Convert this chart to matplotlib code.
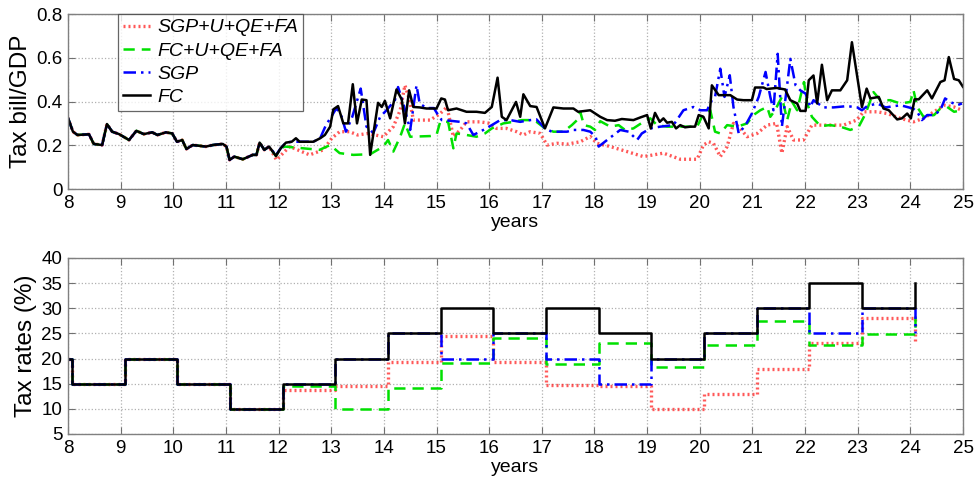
import matplotlib
matplotlib.use("Agg")
import matplotlib.pyplot as plt

plt.rcParams['font.family'] = ['Liberation Sans', 'DejaVu Sans']

# ---------------- top panel data (Tax bill / GDP) ----------------
x_common = [8.0, 8.095, 8.18, 8.40, 8.49, 8.65, 8.74, 8.84, 8.97, 9.16, 9.30, 9.44, 9.60, 9.70,
            9.86, 9.98, 10.07, 10.17, 10.25, 10.37, 10.62, 10.75, 10.94, 11.01, 11.07, 11.16,
            11.32, 11.51, 11.58, 11.64, 11.73, 11.82]
v_common = [0.325, 0.262, 0.247, 0.25, 0.206, 0.201, 0.297, 0.262, 0.251, 0.224, 0.266, 0.251,
            0.259, 0.247, 0.259, 0.254, 0.216, 0.224, 0.183, 0.201, 0.194, 0.201, 0.206, 0.194,
            0.133, 0.148, 0.136, 0.156, 0.156, 0.212, 0.179, 0.194]

x_fc = [11.95, 12.04, 12.14, 12.25, 12.33, 12.40, 12.66, 12.79, 12.88, 12.98, 13.04, 13.13, 13.23,
        13.32, 13.41, 13.49, 13.58, 13.67, 13.74, 13.89, 13.96, 14.02, 14.12, 14.24, 14.34, 14.40,
        14.48, 14.56, 14.68, 14.81, 15.00, 15.09, 15.16, 15.22, 15.38, 15.57, 15.76, 15.92, 16.05,
        16.16, 16.24, 16.33, 16.51, 16.59, 16.65, 16.78, 16.90, 17.06, 17.22, 17.41, 17.60, 17.69,
        17.92, 18.11, 18.24, 18.39, 18.52, 18.74, 18.87, 19.0, 19.07, 19.15, 19.24, 19.31, 19.38,
        19.47, 19.55, 19.63, 19.72, 19.82, 19.91, 19.98, 20.07, 20.17, 20.23, 20.36, 20.58, 20.71,
        20.83, 20.99, 21.05, 21.21, 21.27, 21.46, 21.62, 21.72, 21.85, 21.91, 22.01, 22.07, 22.16,
        22.23, 22.32, 22.42, 22.51, 22.67, 22.80, 22.89, 23.08, 23.17, 23.24, 23.40, 23.49, 23.59,
        23.75, 23.84, 23.94, 24.01, 24.08, 24.16, 24.32, 24.41, 24.57, 24.65, 24.73, 24.83, 24.92,
        25.0]
v_fc = [0.151, 0.186, 0.212, 0.216, 0.232, 0.216, 0.216, 0.232, 0.247, 0.285, 0.364, 0.379, 0.30,
        0.30, 0.479, 0.30, 0.409, 0.406, 0.156, 0.394, 0.375, 0.403, 0.323, 0.455, 0.409, 0.30,
        0.451, 0.375, 0.373, 0.368, 0.368, 0.414, 0.409, 0.36, 0.368, 0.353, 0.353, 0.348, 0.375,
        0.509, 0.33, 0.315, 0.398, 0.33, 0.433, 0.379, 0.375, 0.277, 0.373, 0.368, 0.368, 0.353,
        0.36, 0.33, 0.315, 0.312, 0.32, 0.315, 0.327, 0.338, 0.277, 0.348, 0.307, 0.323, 0.303,
        0.307, 0.277, 0.292, 0.282, 0.285, 0.285, 0.338, 0.33, 0.277, 0.474, 0.429, 0.429, 0.409,
        0.406, 0.406, 0.464, 0.464, 0.457, 0.462, 0.455, 0.406, 0.391, 0.357, 0.357, 0.497, 0.519,
        0.391, 0.568, 0.406, 0.451, 0.451, 0.497, 0.671, 0.375, 0.459, 0.414, 0.421, 0.368, 0.36,
        0.318, 0.323, 0.345, 0.323, 0.41, 0.41, 0.451, 0.414, 0.489, 0.497, 0.603, 0.503, 0.497,
        0.467]

x_sgp = [11.95, 12.04, 12.14, 12.25, 12.40, 12.66, 12.79, 12.9, 13.0, 13.1, 13.2, 13.28, 13.4,
         13.56, 13.67, 13.8, 13.93, 14.05, 14.21, 14.27, 14.37, 14.50, 14.62, 14.68, 14.81, 14.95,
         15.03, 15.1, 15.26, 15.45, 15.57, 15.70, 15.89, 16.05, 16.21, 16.40, 16.59, 16.78, 16.90,
         17.06, 17.19, 17.35, 17.48, 17.60, 17.79, 17.92, 18.02, 18.08, 18.24, 18.49, 18.65, 18.81,
         18.9, 19.06, 19.25, 19.50, 19.69, 19.88, 20.01, 20.14, 20.23, 20.29, 20.39, 20.47, 20.57,
         20.64, 20.74, 20.87, 20.99, 21.12, 21.25, 21.34, 21.40, 21.48, 21.56, 21.64, 21.72, 21.82,
         21.91, 22.01, 22.10, 22.16, 22.35, 22.54, 22.80, 22.99, 23.08, 23.18, 23.37, 23.53, 23.81,
         23.97, 24.05, 24.13, 24.22, 24.32, 24.45, 24.57, 24.66, 24.76, 24.89, 24.98]
v_sgp = [0.155, 0.186, 0.212, 0.216, 0.216, 0.216, 0.232, 0.292, 0.33, 0.37, 0.33, 0.262, 0.33,
         0.459, 0.285, 0.256, 0.33, 0.36, 0.406, 0.466, 0.391, 0.27, 0.474, 0.391, 0.37, 0.37,
         0.338, 0.315, 0.312, 0.307, 0.30, 0.247, 0.27, 0.292, 0.315, 0.315, 0.307, 0.315, 0.318,
         0.277, 0.262, 0.262, 0.262, 0.27, 0.27, 0.262, 0.239, 0.194, 0.224, 0.27, 0.262, 0.224,
         0.254, 0.277, 0.285, 0.292, 0.36, 0.375, 0.36, 0.36, 0.406, 0.421, 0.55, 0.421, 0.52,
         0.375, 0.254, 0.292, 0.345, 0.421, 0.535, 0.421, 0.36, 0.618, 0.285, 0.436, 0.595, 0.474,
         0.451, 0.436, 0.375, 0.406, 0.373, 0.373, 0.379, 0.373, 0.36, 0.379, 0.391, 0.373, 0.383,
         0.373, 0.368, 0.353, 0.315, 0.338, 0.338, 0.36, 0.414, 0.398, 0.383, 0.391]

x_fcu = [11.95, 12.04, 12.12, 12.47, 12.78, 12.98, 13.16, 13.42, 13.74, 13.99, 14.08, 14.18, 14.31,
         14.40, 14.50, 14.88, 15.0, 15.07, 15.22, 15.32, 15.38, 15.57, 15.76, 15.92, 16.05, 16.27,
         16.46, 16.62, 16.78, 16.90, 17.06, 17.22, 17.41, 17.57, 17.67, 17.73, 17.80, 17.92, 18.01,
         18.11, 18.30, 18.46, 18.58, 18.74, 18.93, 19.06, 19.19, 19.38, 19.57, 19.76, 19.95, 20.07,
         20.2, 20.29, 20.39, 20.52, 20.71, 20.90, 21.02, 21.15, 21.28, 21.34, 21.43, 21.56, 21.66,
         21.75, 21.85, 21.98, 22.04, 22.13, 22.29, 22.48, 22.67, 22.86, 23.02, 23.15, 23.30, 23.43,
         23.62, 23.81, 24.0, 24.06, 24.13, 24.25, 24.45, 24.57, 24.70, 24.83, 24.98]
v_fcu = [0.151, 0.186, 0.194, 0.186, 0.179, 0.201, 0.164, 0.156, 0.159, 0.194, 0.224, 0.171, 0.239,
         0.30, 0.239, 0.242, 0.247, 0.307, 0.307, 0.186, 0.254, 0.247, 0.239, 0.254, 0.277, 0.30,
         0.307, 0.315, 0.315, 0.307, 0.277, 0.262, 0.262, 0.292, 0.315, 0.353, 0.292, 0.285, 0.27,
         0.31, 0.285, 0.292, 0.27, 0.277, 0.307, 0.323, 0.292, 0.285, 0.285, 0.285, 0.285, 0.345,
         0.36, 0.262, 0.254, 0.292, 0.285, 0.30, 0.338, 0.36, 0.375, 0.33, 0.36, 0.421, 0.315,
         0.40, 0.36, 0.489, 0.391, 0.33, 0.288, 0.292, 0.285, 0.27, 0.285, 0.345, 0.443, 0.406,
         0.406, 0.391, 0.398, 0.451, 0.375, 0.33, 0.338, 0.368, 0.375, 0.353, 0.36]

x_sgpu = [11.96, 12.21, 12.59, 12.85, 13.01, 13.16, 13.35, 13.5, 13.7, 13.99, 14.18, 14.31, 14.40,
          14.49, 14.56, 14.88, 15.07, 15.2, 15.32, 15.45, 15.57, 15.83, 16.02, 16.14, 16.33, 16.52,
          16.65, 16.78, 16.97, 17.10, 17.29, 17.48, 17.73, 17.92, 18.05, 18.30, 18.62, 18.93, 19.31,
          19.63, 19.95, 20.07, 20.17, 20.26, 20.39, 20.52, 20.64, 20.74, 20.90, 21.09, 21.28, 21.46,
          21.56, 21.66, 21.78, 21.97, 22.13, 22.42, 22.73, 22.98, 23.11, 23.37, 23.56, 23.81, 24.06,
          24.25, 24.45, 24.64, 24.83, 24.98]
v_sgpu = [0.133, 0.194, 0.156, 0.179, 0.232, 0.262, 0.262, 0.247, 0.254, 0.239, 0.285, 0.36, 0.474,
          0.406, 0.315, 0.315, 0.345, 0.375, 0.239, 0.27, 0.307, 0.307, 0.30, 0.277, 0.277, 0.262,
          0.247, 0.262, 0.254, 0.201, 0.209, 0.205, 0.216, 0.24, 0.209, 0.194, 0.171, 0.148, 0.164,
          0.136, 0.136, 0.201, 0.216, 0.209, 0.148, 0.194, 0.30, 0.285, 0.239, 0.254, 0.292, 0.30,
          0.164, 0.285, 0.224, 0.224, 0.292, 0.292, 0.292, 0.315, 0.353, 0.353, 0.345, 0.323, 0.307,
          0.323, 0.353, 0.383, 0.375, 0.36]

# ---------------- bottom panel data (tax rates, %) ----------------
x_steps = [8.0, 8.08, 9.08, 10.08, 11.08, 12.08, 13.08, 14.08, 15.08, 16.08, 17.08, 18.08,
           19.08, 20.08, 21.08, 22.08, 23.08, 24.08]
r_fc = [20, 15, 20, 15, 10, 15, 20, 25, 30, 25, 30, 25, 20, 25, 30, 35, 30, 35]
r_sgp = [20, 15, 20, 15, 10, 15, 20, 25, 20, 25, 20, 15, 20, 25, 30, 25, 30, 25]
r_fcu = [20, 15, 20, 15, 10, 14.6, 9.9, 14.1, 19.1, 24.0, 19.0, 23.1, 18.4, 22.6, 27.5, 22.6, 24.9, 29.5]
r_sgpu = [20, 15, 20, 15, 10, 13.8, 14.6, 19.4, 24.5, 19.4, 14.7, 14.6, 10, 13.0, 18.0, 23.0, 28.0, 23.0]

labels = ['SGP+U+QE+FA', 'FC+U+QE+FA', 'SGP', 'FC']
top_xticks = list(range(8, 26))
top_yticks = [0, 0.2, 0.4, 0.6, 0.8]
bot_yticks = list(range(5, 41, 5))

# ---------------- styles ----------------
st_red = dict(color='#ff2020', lw=2.4, ls=(0, (0.6, 0.9)), alpha=0.75)
st_green = dict(color='#00e000', lw=1.8, ls=(0, (4.5, 2.8)))
st_blue = dict(color='#0000ff', lw=1.8, ls=(0, (5, 2, 1, 2)))
st_black = dict(color='black', lw=1.8, ls='-')

fig = plt.figure(figsize=(9.75, 4.78), dpi=100)
ax1 = fig.add_axes([0.0697, 0.6046, 0.9180, 0.3661])
ax2 = fig.add_axes([0.0697, 0.0921, 0.9180, 0.3682])

FS_TICK = 13.5
FS_XLAB = 14
FS_YLAB = 17.5
FS_LEG = 14

def style(ax):
    ax.grid(True, ls=':', color='#b0b0b0', lw=0.9)
    ax.set_axisbelow(True)
    ax.tick_params(direction='in', top=True, right=True, length=5, labelsize=FS_TICK,
                   color='#707070', pad=4)
    for s in ax.spines.values():
        s.set_color('#808080')
        s.set_linewidth(1.0)

# top
ax1.plot(x_common + x_sgpu, v_common + v_sgpu, label=labels[0], **st_red)
ax1.plot(x_common + x_fcu, v_common + v_fcu, label=labels[1], **st_green)
ax1.plot(x_common + x_sgp, v_common + v_sgp, label=labels[2], **st_blue)
ax1.plot(x_common + x_fc, v_common + v_fc, label=labels[3], **st_black)
ax1.set_xlim(8, 25)
ax1.set_ylim(0, 0.8)
ax1.set_xticks(top_xticks)
ax1.set_yticks(top_yticks)
ax1.set_yticklabels(['0', '0.2', '0.4', '0.6', '0.8'])
ax1.set_xlabel('years', fontsize=FS_XLAB, labelpad=2)
ax1.set_ylabel('Tax bill/GDP', fontsize=FS_YLAB, labelpad=3)
style(ax1)
leg = ax1.legend(loc='upper left', bbox_to_anchor=(0.056, 1.0), borderaxespad=0,
                 prop={'style': 'italic', 'size': FS_LEG}, frameon=True, fancybox=False,
                 edgecolor='#404040', handlelength=1.4, handletextpad=0.35,
                 labelspacing=0.28, borderpad=0.25)
leg.get_frame().set_linewidth(0.9)

# bottom
ax2.step(x_steps, r_sgpu, where='post', **st_red)
ax2.step(x_steps, r_fcu, where='post', **st_green)
ax2.step(x_steps, r_sgp, where='post', **st_blue)
ax2.step(x_steps, r_fc, where='post', **st_black)
ax2.set_xlim(8, 25)
ax2.set_ylim(5, 40)
ax2.set_xticks(top_xticks)
ax2.set_yticks(bot_yticks)
ax2.set_xlabel('years', fontsize=FS_XLAB, labelpad=2)
ax2.set_ylabel('Tax rates (%)', fontsize=FS_YLAB, labelpad=3)
style(ax2)

fig.savefig('out.png', dpi=100)
